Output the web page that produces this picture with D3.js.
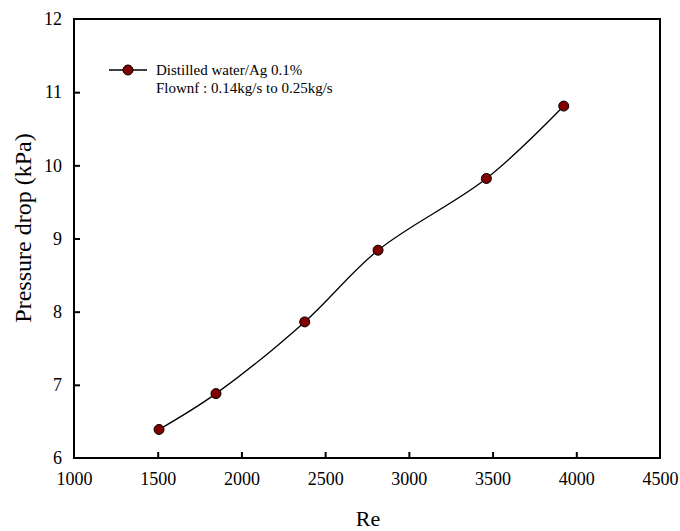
<!DOCTYPE html>
<html><head><meta charset="utf-8">
<script src="https://cdn.jsdelivr.net/npm/d3@7"></script>
<style>body{margin:0;background:#fff}svg{display:block}</style>
</head><body><svg id="c" width="680" height="531" style="font-family:'Liberation Serif', 'Times New Roman', 'DejaVu Serif', serif"></svg>
<script>
const reValues = [1508, 1848, 2378, 2816, 3463, 3925];
const pressureDrop = [6.39, 6.88, 7.86, 8.84, 9.82, 10.81];
const xTicks = [1000, 1500, 2000, 2500, 3000, 3500, 4000, 4500];
const yTicks = [6, 7, 8, 9, 10, 11, 12];
const legendLines = ["Distilled water/Ag 0.1%", "Flownf : 0.14kg/s to 0.25kg/s"];

const FONT = "'Liberation Serif', 'Times New Roman', 'DejaVu Serif', serif";
const svg = d3.select("#c");
const L = 74, R = 660, T = 19, B = 458;
const x = d3.scaleLinear().domain([1000, 4500]).range([L, R]);
const y = d3.scaleLinear().domain([6, 12]).range([B, T]);

const gx = svg.append("g").attr("transform", `translate(0,${B})`)
  .call(d3.axisBottom(x).tickValues(xTicks).tickSize(-6).tickPadding(14).tickFormat(d3.format("d")));
const gy = svg.append("g").attr("transform", `translate(${L},0)`)
  .call(d3.axisLeft(y).tickValues(yTicks).tickSize(-6).tickPadding(12).tickFormat(d3.format("d")));
[gx, gy].forEach(g => {
  g.attr("font-family", null);
  g.select(".domain").remove();
  g.selectAll(".tick line").attr("stroke", "#000").attr("stroke-width", 2);
  g.selectAll(".tick text").style("font-size", "18px").style("font-family", FONT).attr("fill", "#000");
});
gx.selectAll(".tick").filter(d => d === 1000 || d === 4500).select("line").remove();
gy.selectAll(".tick").filter(d => d === 6 || d === 12).select("line").remove();

svg.append("rect").attr("x", L).attr("y", T).attr("width", R - L).attr("height", B - T)
  .attr("fill", "none").attr("stroke", "#000").attr("stroke-width", 2);

const data = reValues.map((v, i) => [v, pressureDrop[i]]);
const line = d3.line().x(d => x(d[0])).y(d => y(d[1])).curve(d3.curveCatmullRom.alpha(0.5));
svg.append("path").datum(data).attr("d", line).attr("fill", "none").attr("stroke", "#000").attr("stroke-width", 1.3);
svg.selectAll("circle.pt").data(data).join("circle").attr("class", "pt")
  .attr("cx", d => x(d[0])).attr("cy", d => y(d[1])).attr("r", 5)
  .attr("fill", "#800000").attr("stroke", "#000").attr("stroke-width", 1);

svg.append("line").attr("x1", 109).attr("x2", 147).attr("y1", 70).attr("y2", 70).attr("stroke", "#000").attr("stroke-width", 1.3);
svg.append("circle").attr("cx", 128).attr("cy", 70).attr("r", 5).attr("fill", "#800000").attr("stroke", "#000");
svg.selectAll("text.leg").data(legendLines).join("text").attr("class", "leg")
  .attr("x", 156).attr("y", (d, i) => 75 + i * 18).style("font-size", "15px").style("font-family", FONT).text(d => d);

svg.append("text").attr("x", 368).attr("y", 526).attr("text-anchor", "middle")
  .style("font-size", "22px").style("font-family", FONT).text("Re");
svg.append("text").attr("transform", `translate(31,228) rotate(-90)`).attr("text-anchor", "middle")
  .style("font-size", "24px").style("font-family", FONT).text("Pressure drop (kPa)");
</script></body></html>
